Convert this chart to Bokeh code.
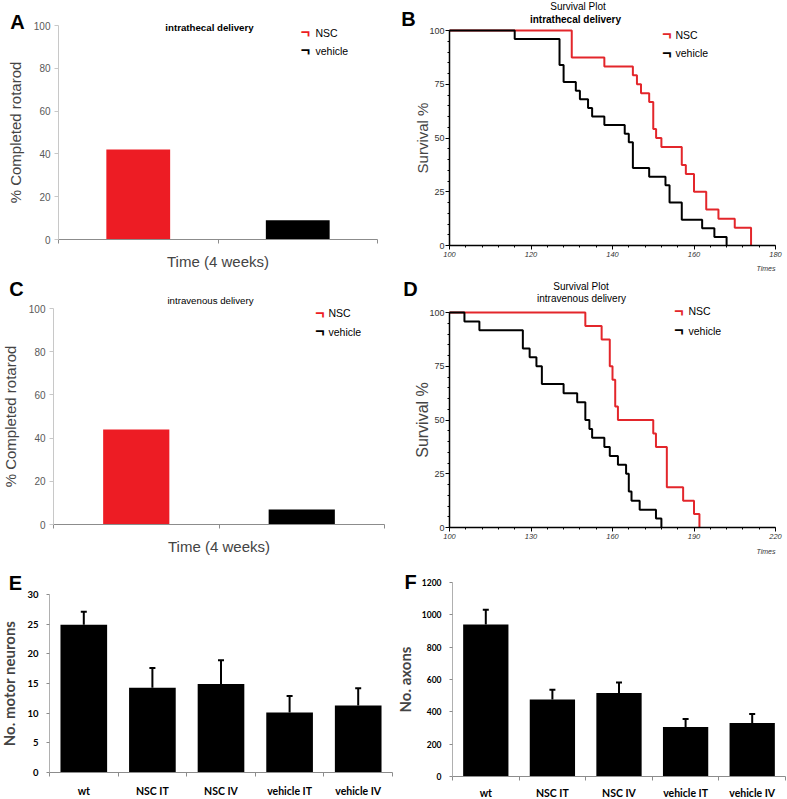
import numpy as np
from bokeh.plotting import figure
from bokeh.models import Range1d, Label, FixedTicker, Whisker, ColumnDataSource, TeeHead
from bokeh.layouts import row, column
from bokeh.embed import file_html
from bokeh.resources import INLINE

# ---------------- data ----------------
rot_groups = ["NSC", "vehicle"]
rot_it = [42, 9]          # % completed rotarod, intrathecal
rot_iv = [44, 7]          # % completed rotarod, intravenous
rot_ticks = [0, 20, 40, 60, 80, 100]

# Kaplan-Meier steps (time, survival %) - intrathecal
it_nsc_t = [100, 130, 138, 145, 146, 147, 149, 150, 150.7, 152, 157, 158, 160, 163, 166, 170, 174]
it_nsc_s = [100, 87.5, 83.3, 79.2, 75, 70.8, 66.7, 54.2, 50, 45.8, 37.5, 33.3, 25, 16.7, 12.5, 8.3, 0]
it_veh_t = [100, 116, 127, 128, 131, 132, 134, 135, 138, 143, 144, 145, 149, 153, 154, 157, 162, 165, 168]
it_veh_s = [100, 96, 84, 76, 72, 68, 64, 60, 56, 52, 48, 36, 32, 28, 20, 12, 8, 4, 0]
# intravenous
iv_nsc_t = [100, 150, 156, 159, 160, 161, 162, 175, 176, 180, 186, 190, 192]
iv_nsc_s = [100, 93.75, 87.5, 75, 68.75, 56.25, 50, 43.75, 37.5, 18.75, 12.5, 6.25, 0]
iv_veh_t = [100, 105.5, 111, 127, 129.5, 132, 134, 142, 147, 150, 151.5, 152.5, 157, 159, 162, 165, 166, 167, 170, 176, 178]
iv_veh_s = [100, 95.8, 91.7, 83.3, 79.2, 75, 66.7, 62.5, 58.3, 50, 45.8, 41.7, 37.5, 33.3, 29.2, 25, 16.7, 12.5, 8.3, 4.2, 0]
surv_y_ticks = [0, 25, 50, 75, 100]
it_x_ticks = [100, 120, 140, 160, 180]
iv_x_ticks = [100, 130, 160, 190, 220]

groups = ["wt", "NSC IT", "NSC IV", "vehicle IT", "vehicle IV"]
mn_mean = [24.9, 14.3, 14.9, 10.1, 11.3]
mn_err = [2.2, 3.3, 4.0, 2.8, 2.9]
ax_mean = [940, 476, 516, 306, 331]
ax_err = [91, 61, 66, 49, 55]
mn_ticks = [0, 5, 10, 15, 20, 25, 30]
ax_ticks = [0, 200, 400, 600, 800, 1000, 1200]

RED = "#ED1C24"
SRED = "#E3262B"
FONT = "Liberation Sans"
BFONT = "Lato"


def panel(left, top, width, height, fl, ft, fr, fb, xr, yr):
    """Figure whose frame fills the canvas; axes are pinned to the data box."""
    xpp = (xr[1] - xr[0]) / (fr - fl)
    ypp = (yr[1] - yr[0]) / (fb - ft)
    X0 = xr[0] - (fl - left) * xpp
    X1 = xr[1] + (left + width - fr) * xpp
    Y1 = yr[1] + (ft - top) * ypp
    Y0 = yr[0] - (top + height - fb) * ypp
    p = figure(width=width, height=height, x_range=Range1d(X0, X1), y_range=Range1d(Y0, Y1),
               output_backend="svg", toolbar_location=None,
               min_border_left=0, min_border_right=0, min_border_top=0, min_border_bottom=0)
    p.outline_line_color = None
    p.grid.visible = False
    p.border_fill_color = "white"
    p.xaxis.fixed_location = yr[0]
    p.xaxis.bounds = tuple(xr)
    p.yaxis.fixed_location = xr[0]
    p.yaxis.bounds = tuple(yr)

    def conv(px, py):
        return X0 + (px - left) * xpp, Y1 - (py - top) * ypp
    return p, conv


def lab(p, conv, px, py, text, size, color="black", style="normal", align="center",
        font=FONT):
    x, y = conv(px, py)
    p.add_layout(Label(x=x, y=y, text=text, text_font=font, text_font_size=f"{size}px",
                       text_color=color, text_font_style=style, text_align=align,
                       text_baseline="middle"))


def legend(p, conv, px, py_nsc, py_veh, tx, red):
    lab(p, conv, px, py_nsc, "\u00ac", 16, color=red, style="bold")
    lab(p, conv, tx, py_nsc, "NSC", 10.5, align="left")
    lab(p, conv, px, py_veh, "\u00ac", 16, color="black", style="bold")
    lab(p, conv, tx, py_veh, "vehicle", 10.5, align="left")


def rotarod(left, top, width, height, frame, vals, title, title_style, letter, leg, tpos, xlab_st):
    fl, ft, fr, fb = frame
    p, conv = panel(left, top, width, height, fl, ft, fr, fb, (0, 2), (0, 100))
    xs = np.arange(len(rot_groups)) + 0.5
    p.vbar(x=xs, top=vals, width=0.4, fill_color=[RED, "black"], line_color=None)
    ya = p.yaxis[0]
    ya.ticker = FixedTicker(ticks=rot_ticks)
    ya.axis_line_color = "#C8C8C8"
    ya.major_tick_line_color = "#C8C8C8"
    ya.major_tick_out = 4
    ya.major_tick_in = 0
    ya.minor_tick_out = 0
    ya.major_label_standoff = 4
    ya.major_label_text_font = FONT
    ya.major_label_text_font_size = "10px"
    ya.major_label_text_color = "#595959"
    ya.axis_label = "% Completed rotarod"
    ya.axis_label_text_font = FONT
    ya.axis_label_text_font_size = "15px"
    ya.axis_label_text_font_style = "normal"
    ya.axis_label_standoff = 7
    xa = p.xaxis[0]
    xa.ticker = FixedTicker(ticks=[], minor_ticks=[0, 1, 2])
    xa.axis_line_color = "#8C8C8C"
    xa.minor_tick_line_color = "#8C8C8C"
    xa.major_tick_out = 0
    xa.major_tick_in = 0
    xa.minor_tick_out = 4
    xa.minor_tick_in = 0
    xa.major_label_standoff = 0
    xa.axis_label = "Time (4 weeks)"
    xa.axis_label_text_font = FONT
    xa.axis_label_text_font_size = "15px"
    xa.axis_label_text_font_style = "normal"
    xa.axis_label_standoff = xlab_st
    lab(p, conv, tpos[0], tpos[1], title, 9.7, style=title_style)
    lab(p, conv, letter[1], letter[2], letter[0], 20, style="bold")
    legend(p, conv, leg[0], leg[1], leg[2], leg[3], RED)
    return p


def survival(left, top, width, height, frame, nsc, veh, xticks, minor_step, titles, letter,
             leg, times_pos, ylab_size):
    fl, ft, fr, fb = frame
    p, conv = panel(left, top, width, height, fl, ft, fr, fb, (xticks[0], xticks[-1]), (0, 100))
    p.step(x=nsc[0], y=nsc[1], mode="after", line_color=SRED, line_width=2)
    p.step(x=veh[0], y=veh[1], mode="after", line_color="black", line_width=2)
    ya = p.yaxis[0]
    ya.ticker = FixedTicker(ticks=surv_y_ticks, minor_ticks=list(range(0, 101, 5)))
    xa = p.xaxis[0]
    xa.ticker = FixedTicker(ticks=xticks,
                            minor_ticks=list(np.arange(xticks[0], xticks[-1] + 0.1, minor_step)))
    for a in (xa, ya):
        a.axis_line_color = "black"
        a.axis_line_width = 1.5
        a.major_tick_line_color = "black"
        a.minor_tick_line_color = "black"
        a.major_tick_in = 0
        a.minor_tick_in = 0
        a.major_tick_out = 4
        a.minor_tick_out = 2
    ya.major_label_standoff = 1
    ya.major_label_text_font = FONT
    ya.major_label_text_font_size = "9px"
    ya.major_label_text_color = "#333333"
    ya.axis_label = "Survival %"
    ya.axis_label_text_font = FONT
    ya.axis_label_text_font_size = f"{ylab_size}px"
    ya.axis_label_text_font_style = "normal"
    ya.axis_label_standoff = -5
    xa.major_label_standoff = 2
    xa.major_label_text_font = FONT
    xa.major_label_text_font_size = "7.5px"
    xa.major_label_text_font_style = "italic"
    xa.major_label_text_color = "#333333"
    for (txt, px, py, st) in titles:
        lab(p, conv, px, py, txt, 10, style=st)
    lab(p, conv, letter[1], letter[2], letter[0], 20, style="bold")
    legend(p, conv, leg[0], leg[1], leg[2], leg[3], SRED)
    lab(p, conv, times_pos[0], times_pos[1], "Times", 7, style="italic", align="right",
        color="#333333")
    return p


def bars(left, top, width, height, frame, mean, err, ticks, ylabel, letter, tick_size, ylab_st,
         ylab_size, cat_st):
    fl, ft, fr, fb = frame
    p, conv = panel(left, top, width, height, fl, ft, fr, fb, (0, len(groups)), (ticks[0], ticks[-1]))
    xs = np.arange(len(groups)) + 0.5
    src = ColumnDataSource(dict(x=xs, top=mean, upper=np.array(mean) + np.array(err)))
    p.vbar(x="x", top="top", width=0.68, source=src, fill_color="black", line_color=None)
    p.add_layout(Whisker(source=src, base="x", lower="top", upper="upper", line_width=2,
                         line_color="black",
                         upper_head=TeeHead(size=6, line_width=2, line_color="black"),
                         lower_head=None))
    xa = p.xaxis[0]
    xa.ticker = FixedTicker(ticks=list(xs), minor_ticks=list(range(len(groups) + 1)))
    xa.major_label_overrides = {float(x): g for x, g in zip(xs, groups)}
    xa.axis_line_color = "#8C8C8C"
    xa.major_tick_out = 0
    xa.major_tick_in = 0
    xa.minor_tick_line_color = "#8C8C8C"
    xa.minor_tick_out = 4
    xa.minor_tick_in = 0
    xa.major_label_standoff = cat_st
    xa.major_label_text_font = BFONT
    xa.major_label_text_font_style = "bold"
    xa.major_label_text_font_size = "10.5px"
    xa.major_label_text_color = "black"
    ya = p.yaxis[0]
    ya.ticker = FixedTicker(ticks=ticks)
    ya.axis_line_color = "#B0B0B0"
    ya.major_tick_line_color = "#8C8C8C"
    ya.major_tick_out = 3
    ya.major_tick_in = 0
    ya.minor_tick_out = 0
    ya.major_label_standoff = 8
    ya.major_label_text_font = BFONT
    ya.major_label_text_font_style = "bold"
    ya.major_label_text_font_size = f"{tick_size}px"
    ya.major_label_text_color = "black"
    ya.axis_label = ylabel
    ya.axis_label_text_font = BFONT
    ya.axis_label_text_font_style = "bold"
    ya.axis_label_text_font_size = f"{ylab_size}px"
    ya.axis_label_standoff = ylab_st
    lab(p, conv, letter[1], letter[2], letter[0], 20, style="bold")
    return p


# layout in page pixel coordinates (canvas starts at the page corner)
R1, R2 = 274, 555
pA = rotarod(0, 0, 395, R1, (58, 25, 377, 239), rot_it, "intrathecal delivery", "bold",
             ("A", 17, 21), (305, 32, 50, 315), (209, 27), 9)
pB = survival(395, 0, 392, R1, (449, 30, 775, 245), (it_nsc_t, it_nsc_s), (it_veh_t, it_veh_s),
              it_x_ticks, 4,
              [("Survival Plot", 577.5, 5.5, "normal"), ("intrathecal delivery", 575, 19, "bold")],
              ("B", 408, 18.5), (666.5, 34, 52.5, 675), (775, 268), 15)
pC = rotarod(0, R1, 395, R2 - R1, (53, 308, 384, 524), rot_iv, "intravenous delivery", "normal",
             ("C", 16, 288), (319.5, 312.5, 331, 328), (210, 300), 9)
pD = survival(395, R1, 392, R2 - R1, (449, 312, 775, 527), (iv_nsc_t, iv_nsc_s), (iv_veh_t, iv_veh_s),
              iv_x_ticks, 6,
              [("Survival Plot", 580.5, 285.5, "normal"), ("intravenous delivery", 581, 297.5, "normal")],
              ("D", 410, 288), (678.5, 310.5, 330, 688), (775, 551), 16)
pE = bars(0, R2, 395, 799 - R2, (49, 594, 392, 772), mn_mean, mn_err, mn_ticks, "No. motor neurons",
          ("E", 15, 582), 9.5, 6, 15, 8)
pF = bars(395, R2, 392, 799 - R2, (452, 582, 785, 776), ax_mean, ax_err, ax_ticks, "No. axons",
          ("F", 410, 581), 8.5, 5, 15, 6)

layout = column(row(pA, pB, spacing=0), row(pC, pD, spacing=0), row(pE, pF, spacing=0), spacing=0)

with open("out.html", "w") as f:
    f.write(file_html(layout, INLINE))
